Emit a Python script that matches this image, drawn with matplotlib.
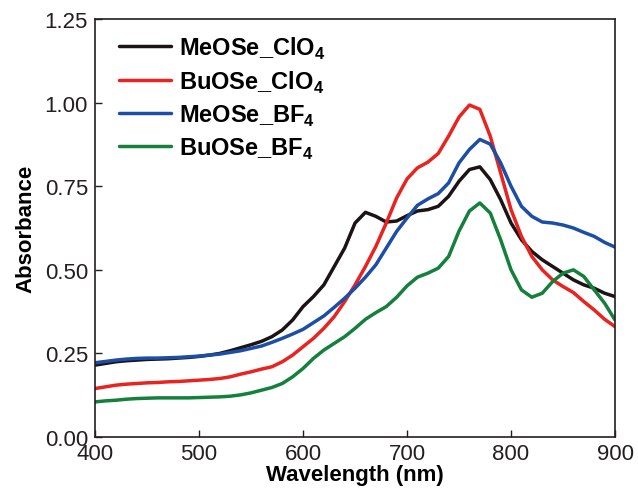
import matplotlib
matplotlib.use("Agg")
import matplotlib.pyplot as plt

plt.rcParams['font.family'] = ['Liberation Sans', 'DejaVu Sans']
plt.rcParams['mathtext.fontset'] = 'custom'
plt.rcParams['mathtext.rm'] = 'Liberation Sans'
plt.rcParams['mathtext.bf'] = 'Liberation Sans:bold'

# wavelength grid (nm)
wavelength = list(range(400, 901, 10))

meose_clo4 = [0.215, 0.220, 0.225, 0.228, 0.230, 0.232, 0.233, 0.234, 0.236, 0.238,
              0.241, 0.245, 0.250, 0.258, 0.267, 0.276, 0.286, 0.300, 0.320, 0.350,
              0.390, 0.420, 0.455, 0.510, 0.565, 0.640, 0.672, 0.660, 0.643, 0.646,
              0.662, 0.676, 0.680, 0.690, 0.720, 0.765, 0.800, 0.808, 0.770, 0.710,
              0.640, 0.590, 0.555, 0.530, 0.510, 0.490, 0.470, 0.455, 0.445, 0.430,
              0.420]
buose_clo4 = [0.145, 0.150, 0.155, 0.158, 0.160, 0.162, 0.163, 0.165, 0.166, 0.168,
              0.170, 0.172, 0.175, 0.180, 0.188, 0.195, 0.203, 0.210, 0.225, 0.245,
              0.270, 0.295, 0.325, 0.360, 0.405, 0.455, 0.510, 0.570, 0.640, 0.715,
              0.772, 0.805, 0.822, 0.848, 0.900, 0.957, 0.993, 0.980, 0.900, 0.790,
              0.680, 0.600, 0.540, 0.500, 0.470, 0.450, 0.432, 0.405, 0.380, 0.352,
              0.330]
meose_bf4 = [0.222, 0.226, 0.230, 0.233, 0.235, 0.236, 0.236, 0.237, 0.238, 0.240,
             0.242, 0.245, 0.248, 0.253, 0.258, 0.265, 0.272, 0.283, 0.295, 0.308,
             0.322, 0.342, 0.362, 0.388, 0.415, 0.445, 0.478, 0.515, 0.565, 0.615,
             0.655, 0.693, 0.712, 0.728, 0.760, 0.820, 0.860, 0.890, 0.876, 0.820,
             0.750, 0.690, 0.660, 0.643, 0.640, 0.634, 0.625, 0.612, 0.600, 0.582,
             0.568]
buose_bf4 = [0.105, 0.108, 0.110, 0.113, 0.115, 0.116, 0.117, 0.117, 0.117, 0.117,
             0.118, 0.119, 0.120, 0.122, 0.126, 0.132, 0.140, 0.148, 0.160, 0.180,
             0.205, 0.235, 0.260, 0.280, 0.300, 0.325, 0.352, 0.372, 0.390, 0.418,
             0.452, 0.478, 0.490, 0.505, 0.540, 0.616, 0.676, 0.700, 0.670, 0.590,
             0.500, 0.440, 0.418, 0.430, 0.465, 0.490, 0.500, 0.480, 0.440, 0.400,
             0.350]

labels = [r'MeOSe_ClO$_\mathbf{4}$', r'BuOSe_ClO$_\mathbf{4}$',
          r'MeOSe_BF$_\mathbf{4}$', r'BuOSe_BF$_\mathbf{4}$']
colors = ['#1c1414', '#e82320', '#1c4ea6', '#14803c']

fig = plt.figure(figsize=(6.38, 5.02), dpi=100)
ax = fig.add_axes([0.149, 0.1275, 0.815, 0.8325])

for y, lab, c in zip([meose_clo4, buose_clo4, meose_bf4, buose_bf4], labels, colors):
    ax.plot(wavelength, y, color=c, lw=2.5, label=lab,
            solid_capstyle='round', solid_joinstyle='round')

ax.set_xlim(400, 900)
ax.set_ylim(0, 1.25)
ax.set_xticks([400, 500, 600, 700, 800, 900])
ax.set_yticks([0, 0.25, 0.5, 0.75, 1.0, 1.25])
ax.set_yticklabels(['0.00', '0.25', '0.50', '0.75', '1.00', '1.25'])
ax.tick_params(direction='in', length=5, width=1, labelsize=16, colors='#231f20')
ax.tick_params(axis='x', pad=4)
ax.tick_params(axis='y', pad=5)
for s in ax.spines.values():
    s.set_linewidth(1.2)
    s.set_color('#231f20')

ax.set_xlabel('Wavelength (nm)', fontsize=16, fontweight='bold', labelpad=0)
ax.set_ylabel('Absorbance', fontsize=16, fontweight='bold', labelpad=6)

ax.legend(loc='upper left', bbox_to_anchor=(0.017, 1.0), frameon=False,
          handlelength=2.2, handletextpad=0.35, labelspacing=0.33,
          borderaxespad=0.25, prop={'weight': 'bold', 'size': 17})

fig.savefig('out.png', dpi=100)
